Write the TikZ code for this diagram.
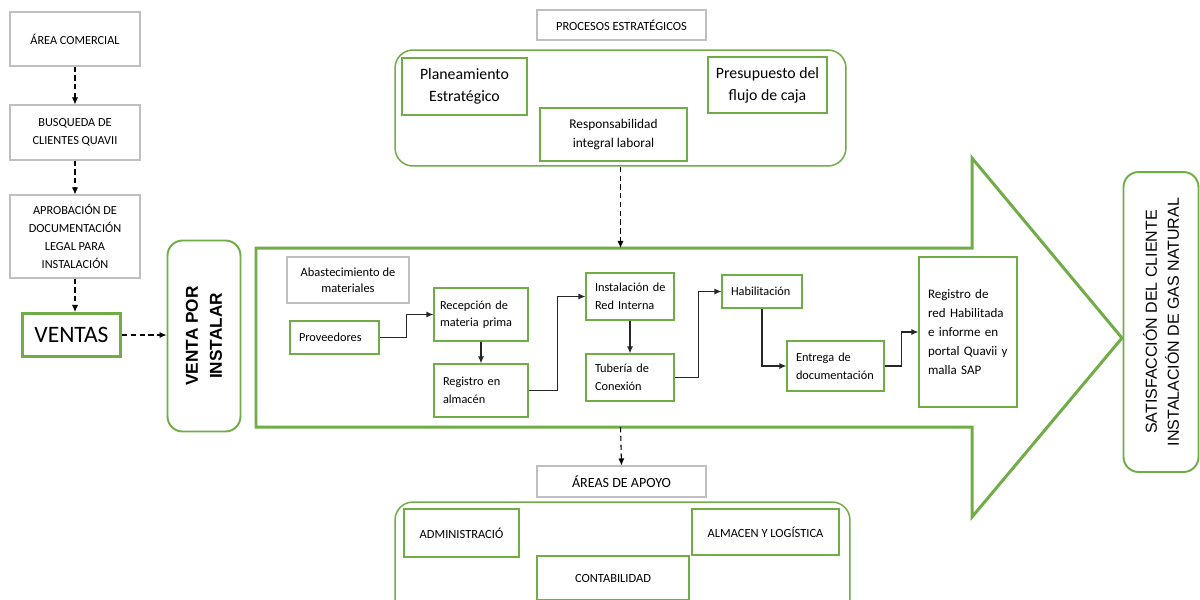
\documentclass[tikz,border=0pt]{standalone}
\usepackage{fontspec}
\setmainfont{Carlito}
\newfontfamily\arialf{Liberation Sans}
\usetikzlibrary{arrows.meta}
\definecolor{ofgreen}{RGB}{112,173,71}
\definecolor{boxgray}{RGB}{191,191,191}
\newcommand{\fs}[2]{\fontsize{#1}{#2}\selectfont}
\tikzset{
	graybox/.style={draw=boxgray, line width=0.6pt, align=center, inner sep=0pt},
	greenbox/.style={draw=ofgreen, line width=0.6pt, align=center, inner sep=0pt},
	leftbox/.style={draw=ofgreen, line width=0.6pt, align=left, inner xsep=0.18cm, inner ysep=0pt, text width=#1, font=\fs{7}{10}},
	roundbox/.style={draw=ofgreen, line width=1.1pt, rounded corners=0.3cm, inner sep=0pt, align=center},
	areabox/.style={draw=ofgreen, line width=0.85pt, rounded corners=0.36cm, inner sep=0pt},
	dashlink/.style={line width=0.6pt, dash pattern=on 3pt off 2pt, -{Latex[length=4pt,width=3.5pt]}},
	flow/.style={line width=0.8pt, draw=black!85, -{Latex[length=4pt,width=3.5pt]}}
}
\begin{document}
\begin{tikzpicture}[x=0.02cm, y=-0.02cm]
	\useasboundingbox (0,0) rectangle (1200,599);
	\clip (0,0) rectangle (1200,599);
	\fill [white] (0,0) rectangle (1200,599);

	\node [graybox, minimum width=2.6cm, minimum height=1.08cm, font=\fs{7}{10.2}] (comercial) at (75,39) {ÁREA COMERCIAL};
	\node [graybox, minimum width=2.6cm, minimum height=1.1cm, font=\fs{7}{10.2}] (busqueda) at (75,132.5) {BUSQUEDA DE\\CLIENTES QUAVII};
	\node [graybox, minimum width=2.6cm, minimum height=1.66cm, font=\fs{7}{10.2}] (aprobacion) at (75,236.5) {APROBACIÓN DE\\DOCUMENTACIÓN\\LEGAL PARA\\INSTALACIÓN};
	\node [draw=ofgreen, line width=1.7pt, minimum width=1.96cm, minimum height=0.86cm, inner sep=0pt, font=\fs{13.4}{15}] (ventas) at (71.5,335) {VENTAS};
	\node [roundbox, rotate=90, minimum width=3.82cm, minimum height=1.46cm, font=\arialf\bfseries\fs{9.8}{13.6}] (venta) at (204,336) {VENTA POR\\INSTALAR};

	\draw [dashlink] (comercial) -- (busqueda);
	\draw [dashlink] (busqueda) -- (aprobacion);
	\draw [dashlink] (aprobacion.south) -- (aprobacion.south |- ventas.north);
	\draw [dashlink] (ventas.east) -- (ventas.east -| venta.north);

	\node [graybox, minimum width=3.38cm, minimum height=0.6cm, font=\fs{7.1}{8}] (procesos) at (621.5,25) {PROCESOS ESTRATÉGICOS};
	\node [areabox, minimum width=9.02cm, minimum height=2.32cm] (estrategia) at (620.5,108) {};
	\node [greenbox, minimum width=2.5cm, minimum height=1.14cm, font=\fs{9}{12.5}] (planea) at (464.5,86.5) {Planeamiento\\Estratégico};
	\node [greenbox, minimum width=2.38cm, minimum height=1.12cm, font=\fs{9}{12.5}] (presup) at (767.5,85) {Presupuesto del\\flujo de caja};
	\node [greenbox, minimum width=2.94cm, minimum height=1.06cm, font=\fs{7.6}{10.8}] (respon) at (613.5,134.5) {Responsabilidad\\integral laboral};

	\draw [draw=ofgreen, line width=1.7pt] (256,248) -- (972,248) -- (972,158) -- (1122,338) -- (972,517) -- (972,427) -- (256,427) -- cycle;
	\coordinate (shafttop) at (620.5,248);
	\coordinate (shaftbot) at (620.5,427);

	\node [graybox, minimum width=2.44cm, minimum height=0.92cm, font=\fs{7.1}{9.3}] (abast) at (348,280) {Abastecimiento de\\materiales};
	\node [leftbox=1.42cm, minimum height=0.66cm] (prov) at (334.5,337.5) {Proveedores};
	\node [leftbox=1.64cm, inner xsep=0.12cm, minimum height=1.06cm] (recep) at (481,314.5) {Recepción de\\materia~prima};
	\node [leftbox=1.52cm, minimum height=1.06cm] (regalm) at (481,390.5) {Registro en\\almacén};
	\node [leftbox=1.40cm, minimum height=0.94cm] (instal) at (630,296.5) {Instalación~de\\Red Interna};
	\node [leftbox=1.40cm, minimum height=0.94cm] (tuberia) at (630,377.5) {Tubería de\\Conexión};
	\node [leftbox=1.24cm, minimum height=0.66cm] (habil) at (762,291.5) {Habilitación};
	\node [leftbox=1.58cm, minimum height=1.0cm] (entrega) at (835.5,366) {Entrega de\\documentación};
	\node [leftbox=1.60cm, minimum height=3.0cm, font=\fs{7.4}{10.8}] (regred) at (968,332) {Registro de\\red Habilitada\\e informe en\\portal Quavii~y\\malla SAP};

	\draw [flow] (prov.east) -- ++(27,0) |- (recep.west);
	\draw [flow] (recep.south) -- (regalm.north);
	\draw [flow] (regalm.east) -- ++(29,0) |- (instal.west);
	\draw [flow] (instal.south) -- (tuberia.north);
	\draw [flow] (tuberia.east) -- ++(24,0) |- (habil.west);
	\draw [flow] (habil.south) |- (entrega.west);
	\draw [flow] (entrega.east) -- ++(17,0) |- (regred.west);

	\node [roundbox, rotate=90, minimum width=6.0cm, minimum height=1.5cm, font=\arialf\fs{9.1}{12.5}] (satisf) at (1161,322) {SATISFACCIÓN DEL CLIENTE\\INSTALACIÓN DE GAS NATURAL};

	\node [graybox, minimum width=3.38cm, minimum height=0.62cm, font=\fs{8}{9}] (apoyo) at (621.5,481.5) {ÁREAS DE APOYO};
	\node [areabox, minimum width=9.1cm, minimum height=2.6cm] (apoyoarea) at (622.5,567) {};
	\node [greenbox, minimum width=2.3cm, minimum height=0.96cm, font=\fs{7.1}{9}] (admin) at (461.5,533) {ADMINISTRACIÓ};
	\node [greenbox, minimum width=2.94cm, minimum height=0.92cm, font=\fs{7.1}{9}] (almacen) at (765.5,532) {ALMACEN Y LOGÍSTICA};
	\node [greenbox, minimum width=3.04cm, minimum height=0.88cm, font=\fs{7.1}{9}] (conta) at (613,578) {CONTABILIDAD};

	\draw [dashlink] (estrategia.south) -- (shafttop);
	\draw [dashlink] (shaftbot) -- (apoyo.north);
\end{tikzpicture}
\end{document}
